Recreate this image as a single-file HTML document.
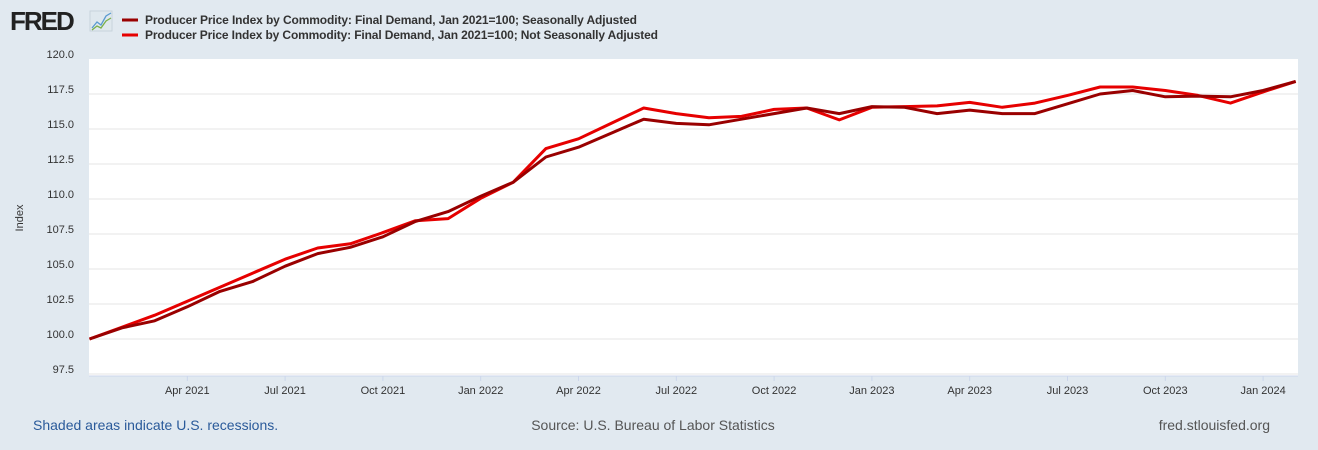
<!DOCTYPE html>
<html><head><meta charset="utf-8"><style>
body{margin:0;width:1318px;height:450px;background:#e1e9f0;font-family:"Liberation Sans",Arial,sans-serif;overflow:hidden}
svg{display:block}
</style></head><body>
<svg id="chart" width="1318" height="450">
<g>
<text x="10" y="30" font-size="26" font-weight="bold" fill="#222" letter-spacing="-2">FRED</text>
<rect x="90" y="11" width="22" height="20" fill="#dfe8ee" stroke="#c8d3dc"/>
<polyline points="92,28 97,22 101,25 106,16 111,13" fill="none" stroke="#5a9ad0" stroke-width="1.3"/>
<polyline points="92,30 97,26 101,28 106,21 111,18" fill="none" stroke="#7bb04a" stroke-width="1.3"/>
</g>
<g>
<line x1="122" y1="20" x2="138" y2="20" stroke="#990000" stroke-width="3"/>
<text x="145" y="24" font-size="12" font-weight="bold" fill="#333" textLength="492">Producer Price Index by Commodity: Final Demand, Jan 2021=100; Seasonally Adjusted</text>
<line x1="122" y1="35" x2="138" y2="35" stroke="#e60000" stroke-width="3"/>
<text x="145" y="39" font-size="12" font-weight="bold" fill="#333" textLength="513">Producer Price Index by Commodity: Final Demand, Jan 2021=100; Not Seasonally Adjusted</text>
</g>
<rect x="89" y="59" width="1209" height="317" fill="#fff"/>
<g id="grid"></g><g id="yt"></g><g id="xt"></g><g id="series"></g>
<text transform="translate(23,218) rotate(-90)" font-size="11" fill="#333" text-anchor="middle">Index</text>
<text x="33" y="430" font-size="14" fill="#2a5a9a">Shaded areas indicate U.S. recessions.</text>
<text x="653" y="430" font-size="14" fill="#555" text-anchor="middle">Source: U.S. Bureau of Labor Statistics</text>
<text x="1270" y="430" font-size="14" fill="#555" text-anchor="end">fred.stlouisfed.org</text>
</svg>
<script>
const sa=[100,100.8,101.3,102.3,103.4,104.1,105.2,106.1,106.55,107.3,108.4,109.1,110.2,111.2,113.0,113.7,114.7,115.7,115.4,115.3,115.7,116.1,116.5,116.1,116.6,116.55,116.1,116.35,116.1,116.1,116.8,117.5,117.75,117.3,117.35,117.3,117.75,118.4];
const nsa=[100,100.85,101.7,102.7,103.7,104.7,105.7,106.5,106.8,107.6,108.45,108.6,110.05,111.2,113.6,114.3,115.4,116.5,116.1,115.8,115.9,116.4,116.5,115.65,116.55,116.6,116.65,116.9,116.55,116.85,117.4,118.0,118.0,117.75,117.4,116.85,117.65,118.4];
const yTicks=["97.5","100.0","102.5","105.0","107.5","110.0","112.5","115.0","117.5","120.0"];
const xTickLabels=["Apr 2021","Jul 2021","Oct 2021","Jan 2022","Apr 2022","Jul 2022","Oct 2022","Jan 2023","Apr 2023","Jul 2023","Oct 2023","Jan 2024"];
const xTickMonths=[3,6,9,12,15,18,21,24,27,30,33,36];
const NS="http://www.w3.org/2000/svg";
const X0=89.5,PX=32.6,Y0=339,PY=35/2.5;
const x=m=>X0+m*PX, y=v=>Y0-(v-100)*PY;
function mk(t,a,p){const e=document.createElementNS(NS,t);for(const k in a)e.setAttribute(k,a[k]);document.getElementById(p).appendChild(e);return e;}
yTicks.forEach(t=>{const v=parseFloat(t);
 if(v<120){const g=mk('line',{x1:89,x2:1298,y1:y(v),y2:y(v),stroke:'#e6e6e6','stroke-width':1},'grid');
 
 }
 const l=mk('text',{x:74,y:y(v)-1,'font-size':11,fill:'#333','text-anchor':'end'},'yt');l.textContent=t;
 
 
});
xTickLabels.forEach((t,i)=>{const xx=x(xTickMonths[i]);
 const tk=mk('line',{x1:xx,x2:xx,y1:376,y2:381,stroke:'#ccd6eb'},'xt');
 
 
 const l=mk('text',{x:xx,y:394,'font-size':11,fill:'#333','text-anchor':'middle'},'xt');l.textContent=t;
 
 
});
const ax=mk('line',{x1:89,x2:1298,y1:376,y2:376,stroke:'#ccd6eb'},'xt');


const pNSA=mk('polyline',{points:nsa.map((v,i)=>x(i)+','+y(v)).join(' '),fill:'none',stroke:'#e60000','stroke-width':3,'stroke-linejoin':'round'},'series');


const pSA=mk('polyline',{points:sa.map((v,i)=>x(i)+','+y(v)).join(' '),fill:'none',stroke:'#990000','stroke-width':3,'stroke-linejoin':'round'},'series');


</script>
</body></html>
